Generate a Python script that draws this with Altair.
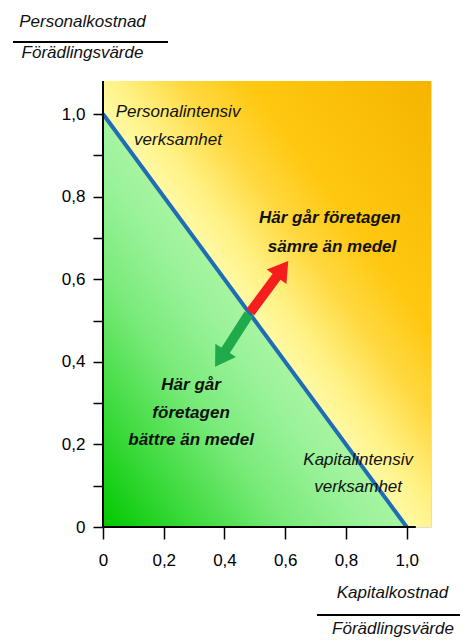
import altair as alt
import pandas as pd
import numpy as np

# ---- data ----
tick_values = [0, 0.1, 0.2, 0.3, 0.4, 0.5, 0.6, 0.7, 0.8, 0.9, 1.0]
domain_max = 1.08
line_x = [0, 1]
line_y = [1, 0]

arrow_names = ["sämre", "bättre"]
arrow_base_x = [0.485, 0.480]
arrow_base_y = [0.520, 0.515]
arrow_tip_x = [0.610, 0.369]
arrow_tip_y = [0.644, 0.388]
arrow_colors = ["#f51d1d", "#1faa4c"]

label_text = ["Personalintensiv", "verksamhet", "Kapitalintensiv", "verksamhet"]
label_x = [0.247, 0.247, 0.840, 0.840]
label_y = [1.005, 0.937, 0.162, 0.097]

bold_text = ["Här går företagen", "sämre än medel", "Här går", "företagen", "bättre än medel"]
bold_x = [0.747, 0.754, 0.29, 0.29, 0.29]
bold_y = [0.748, 0.678, 0.344, 0.276, 0.211]

W, H = 328, 446
FONT = "Liberation Sans"

x_scale = alt.Scale(domain=[0, domain_max], nice=False, zero=True)
y_scale = alt.Scale(domain=[0, domain_max], nice=False, zero=True)

label_expr = ("datum.value == 0 ? '0' : (round(datum.value*10) % 2 == 0 ? "
              "replace(format(datum.value, '.1f'), '.', ',') : '')")

# background rect (yellow/orange)
bg = pd.DataFrame({"x": [0], "x2": [domain_max], "y": [0], "y2": [domain_max]})
orange_grad = alt.LinearGradient(
    gradient="linear", x1=0, y1=1, x2=1, y2=0,
    stops=[
        alt.GradientStop(color="#fffaa8", offset=0),
        alt.GradientStop(color="#fffaa8", offset=0.46),
        alt.GradientStop(color="#fff080", offset=0.53),
        alt.GradientStop(color="#ffd840", offset=0.62),
        alt.GradientStop(color="#ffc810", offset=0.72),
        alt.GradientStop(color="#f5b400", offset=1),
    ])
bg_layer = alt.Chart(bg).mark_rect(color=orange_grad).encode(
    x=alt.X("x:Q", scale=x_scale,
            axis=alt.Axis(values=tick_values, labelExpr=label_expr, domain=False, grid=False,
                          tickSize=12, tickWidth=1.5, tickColor="black", labelFontSize=17,
                          labelColor="black", labelFont=FONT, labelPadding=13,
                          title=None, zindex=1, labelFlush=False)),
    x2="x2:Q",
    y=alt.Y("y:Q", scale=y_scale,
            axis=alt.Axis(values=tick_values, labelExpr=label_expr, domain=False, grid=False,
                          tickSize=10, tickWidth=1.5, tickColor="black", labelFontSize=17,
                          labelColor="black", labelFont=FONT, labelPadding=8,
                          title=None, zindex=1, labelFlush=False)),
    y2="y2:Q",
)

# green triangle under the line
tri = pd.DataFrame({"x": line_x, "y": line_y})
green_grad = alt.LinearGradient(
    gradient="linear", x1=0, y1=1, x2=0.5, y2=0.5,
    stops=[
        alt.GradientStop(color="#00c800", offset=0),
        alt.GradientStop(color="#3cda3c", offset=0.3),
        alt.GradientStop(color="#78ea78", offset=0.6),
        alt.GradientStop(color="#98f298", offset=0.85),
        alt.GradientStop(color="#a8f4a0", offset=1),
    ])
tri_layer = alt.Chart(tri).mark_area(color=green_grad).encode(
    x=alt.X("x:Q", scale=x_scale), y=alt.Y("y:Q", scale=y_scale))

line_layer = alt.Chart(tri).mark_line(color="#1f6db5", strokeWidth=4).encode(
    x=alt.X("x:Q", scale=x_scale), y=alt.Y("y:Q", scale=y_scale))

# arrows
px_per_x = W / domain_max
px_per_y = H / domain_max
arr = pd.DataFrame({"name": arrow_names, "bx": arrow_base_x, "by": arrow_base_y,
                    "tx": arrow_tip_x, "ty": arrow_tip_y, "color": arrow_colors})
dxp = (arr["tx"] - arr["bx"]) * px_per_x
dyp = (arr["ty"] - arr["by"]) * px_per_y
arr["angle"] = (np.degrees(np.arctan2(dxp, dyp)) + 360) % 360
arr["sx"] = arr["bx"] + 0.72 * (arr["tx"] - arr["bx"])
arr["sy"] = arr["by"] + 0.72 * (arr["ty"] - arr["by"])

color_scale = alt.Scale(domain=arrow_names, range=arrow_colors)
shaft = alt.Chart(arr).mark_rule(strokeWidth=10, strokeCap="butt").encode(
    x=alt.X("bx:Q", scale=x_scale), y=alt.Y("by:Q", scale=y_scale),
    x2="sx:Q", y2="sy:Q",
    color=alt.Color("name:N", scale=color_scale, legend=None))
head = alt.Chart(arr).mark_point(
    shape="M 0 0 L 1 1.6 L -1 1.6 Z", filled=True, opacity=1, size=600, strokeWidth=0
).encode(
    x=alt.X("tx:Q", scale=x_scale), y=alt.Y("ty:Q", scale=y_scale),
    angle=alt.Angle("angle:Q", scale=None),
    color=alt.Color("name:N", scale=color_scale, legend=None))

# annotations
lab = pd.DataFrame({"t": label_text, "x": label_x, "y": label_y})
lab_layer = alt.Chart(lab).mark_text(font=FONT, fontSize=17, fontStyle="italic",
                                     baseline="middle", align="center", color="#111111").encode(
    x=alt.X("x:Q", scale=x_scale), y=alt.Y("y:Q", scale=y_scale), text="t:N")
bold = pd.DataFrame({"t": bold_text, "x": bold_x, "y": bold_y})
bold_layer = alt.Chart(bold).mark_text(font=FONT, fontSize=17, fontStyle="italic", fontWeight="bold",
                                       baseline="middle", align="center", color="#111111").encode(
    x=alt.X("x:Q", scale=x_scale), y=alt.Y("y:Q", scale=y_scale), text="t:N")

# axis lines
ax_df = pd.DataFrame({"x": [0, 0], "x2": [1.03, 0], "y": [0, 0], "y2": [0, domain_max]})
axis_lines = alt.Chart(ax_df).mark_rule(color="black", strokeWidth=2).encode(
    x=alt.X("x:Q", scale=x_scale), x2="x2:Q",
    y=alt.Y("y:Q", scale=y_scale), y2="y2:Q")

# axis titles as fractions
title_df = pd.DataFrame({
    "t": ["Personalkostnad", "Förädlingsvärde", "Kapitalkostnad", "Förädlingsvärde"],
    "px": [-20.5, -20.5, 289.5, 290],
    "py": [-59, -28, 512, 548]})
titles = alt.Chart(title_df).mark_text(font=FONT, fontSize=17, fontStyle="italic",
                                       baseline="middle", align="center", color="#111111").encode(
    x=alt.X("px:Q", scale=None), y=alt.Y("py:Q", scale=None), text="t:N")
bar_df = pd.DataFrame({"px": [-90, 214], "px2": [65, 357], "py": [-39, 534]})
bars = alt.Chart(bar_df).mark_rule(color="black", strokeWidth=2).encode(
    x=alt.X("px:Q", scale=None), x2="px2:Q", y=alt.Y("py:Q", scale=None), y2="py:Q")

chart = alt.layer(bg_layer, tri_layer, line_layer, shaft, head, lab_layer, bold_layer,
                  axis_lines, titles, bars).properties(
    width=W, height=H,
    autosize=alt.AutoSizeParams(type="none"),
    padding={"left": 95, "top": 73, "right": 31, "bottom": 112},
).configure_view(stroke=None).configure(background="white")

chart.save("out.html", embed_options={"renderer": "svg", "actions": False})
